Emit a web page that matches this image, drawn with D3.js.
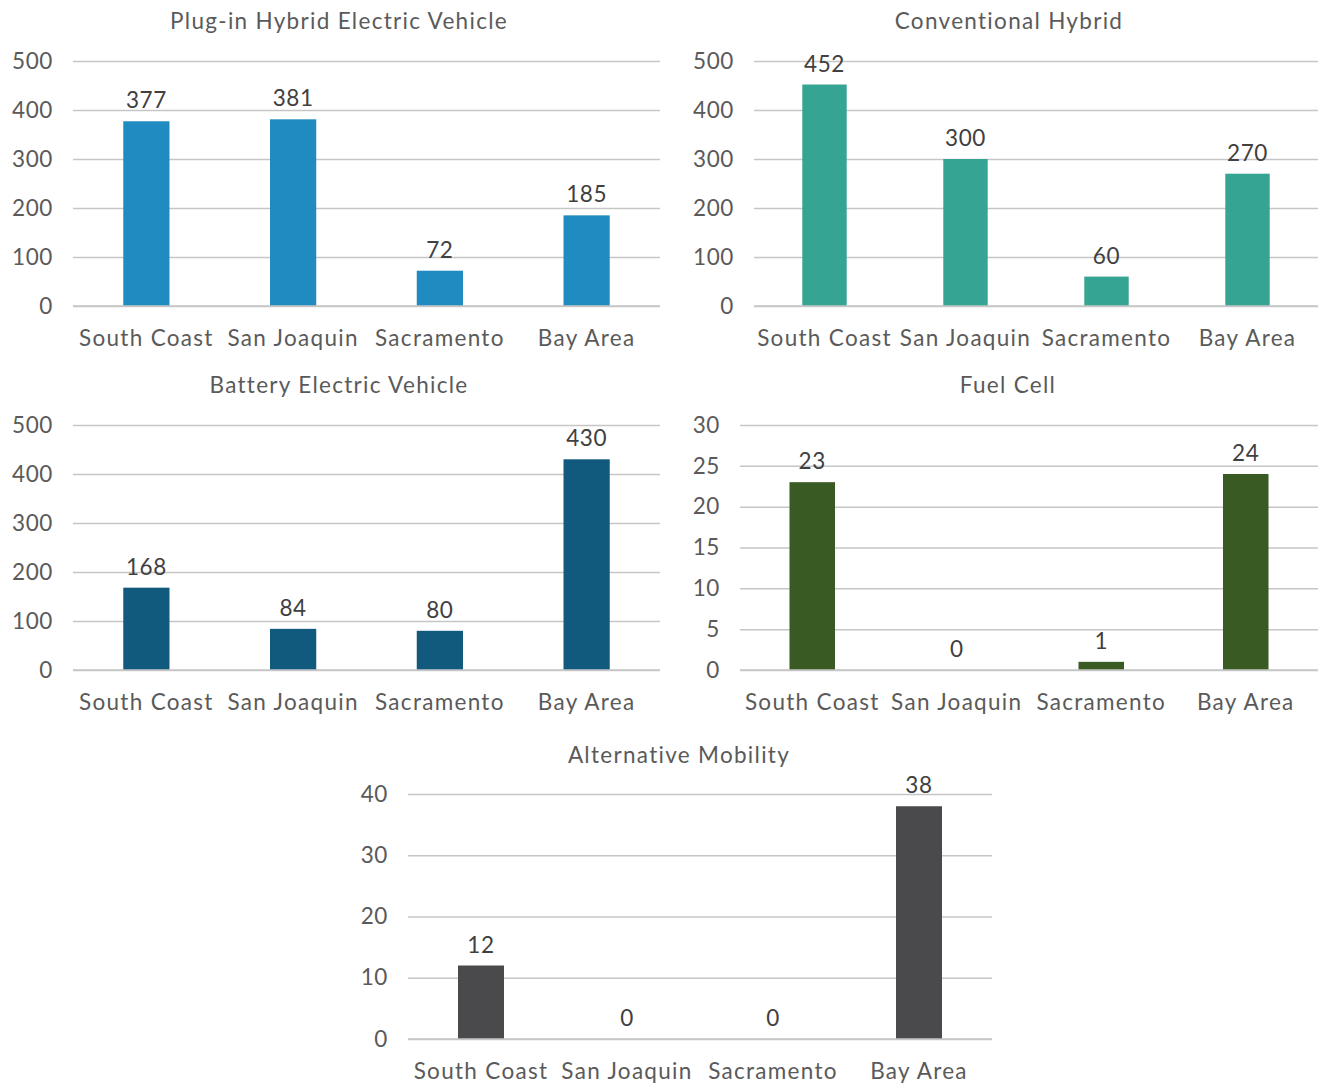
<!DOCTYPE html>
<html>
<head>
<meta charset="utf-8">
<script src="https://cdn.jsdelivr.net/npm/d3@7"></script>
<style>
  html, body { margin: 0; padding: 0; background: #fff; }
  svg { display: block; font-family: Lato, "Open Sans", sans-serif; }
</style>
</head>
<body>
<svg id="chart" width="1321" height="1084"></svg>
<script>
// Regions shared by every panel
const regions = ["South Coast", "San Joaquin", "Sacramento", "Bay Area"];

// Vehicle counts per region, one array per technology
const phevValues = [377, 381, 72, 185];
const hybridValues = [452, 300, 60, 270];
const bevValues = [168, 84, 80, 430];
const fuelCellValues = [23, 0, 1, 24];
const altMobilityValues = [12, 0, 0, 38];

// Tick values for each panel's value axis
const ticks500 = [0, 100, 200, 300, 400, 500];
const ticks30 = [0, 5, 10, 15, 20, 25, 30];
const ticks40 = [0, 10, 20, 30, 40];

const panelTitles = [
  "Plug-in Hybrid Electric Vehicle",
  "Conventional  Hybrid",
  "Battery Electric Vehicle",
  "Fuel Cell",
  "Alternative Mobility"
];

const panels = [
  { title: panelTitles[0], values: phevValues, ticks: ticks500, color: "#1f8bc0",
    x0: 73, x1: 660, yTop: 61, yBottom: 306, titleX: 339, titleY: 29 },
  { title: panelTitles[1], values: hybridValues, ticks: ticks500, color: "#36a492",
    x0: 754, x1: 1318, yTop: 61, yBottom: 306, titleX: 1009, titleY: 29 },
  { title: panelTitles[2], values: bevValues, ticks: ticks500, color: "#115a7e",
    x0: 73, x1: 660, yTop: 425, yBottom: 670, titleX: 339, titleY: 393 },
  { title: panelTitles[3], values: fuelCellValues, ticks: ticks30, color: "#3a5a23",
    x0: 740, x1: 1318, yTop: 425, yBottom: 670, titleX: 1008, titleY: 393 },
  { title: panelTitles[4], values: altMobilityValues, ticks: ticks40, color: "#4a4a4c",
    x0: 408, x1: 992, yTop: 794, yBottom: 1039, titleX: 679, titleY: 763 }
];

const svg = d3.select("#chart");
const textColor = "#5a5a5a";
const gridColor = "#c6c6c6";
const fontSize = 22.5;
const spacing = "1.3px";

panels.forEach(p => {
  const g = svg.append("g");

  const x = d3.scaleBand()
    .domain(regions)
    .range([p.x0, p.x1])
    .paddingInner(0.685)
    .paddingOuter(0.3425);

  const y = d3.scaleLinear()
    .domain([0, d3.max(p.ticks)])
    .range([p.yBottom, p.yTop]);

  // Title
  g.append("text")
    .attr("x", p.titleX)
    .attr("y", p.titleY)
    .attr("text-anchor", "middle")
    .attr("fill", textColor)
    .attr("font-size", fontSize)
    .attr("letter-spacing", spacing)
    .text(p.title);

  // Horizontal gridlines with value labels on the left
  const yAxis = d3.axisLeft(y)
    .tickValues(p.ticks)
    .tickSize(-(p.x1 - p.x0))
    .tickPadding(20)
    .tickFormat(d3.format("d"));

  const ya = g.append("g")
    .attr("transform", `translate(${p.x0},0)`)
    .call(yAxis);
  ya.select(".domain").remove();
  ya.selectAll(".tick line")
    .attr("stroke", gridColor)
    .attr("stroke-width", 1.5);
  ya.selectAll(".tick text")
    .attr("fill", textColor)
    .attr("font-size", fontSize)
    .attr("letter-spacing", "0.6px")
    .attr("font-family", "Lato, sans-serif");

  // Bars
  g.selectAll("rect.bar")
    .data(regions)
    .join("rect")
    .attr("class", "bar")
    .attr("x", d => x(d))
    .attr("width", x.bandwidth())
    .attr("y", (d, i) => y(p.values[i]))
    .attr("height", (d, i) => y(0) - y(p.values[i]))
    .attr("fill", p.color);

  // Baseline drawn over the bars
  g.append("line")
    .attr("x1", p.x0).attr("x2", p.x1)
    .attr("y1", y(0)).attr("y2", y(0))
    .attr("stroke", gridColor)
    .attr("stroke-width", 1.5);

  // Value labels
  g.selectAll("text.value")
    .data(regions)
    .join("text")
    .attr("class", "value")
    .attr("x", d => x(d) + x.bandwidth() / 2)
    .attr("y", (d, i) => y(p.values[i]) - 13)
    .attr("text-anchor", "middle")
    .attr("fill", "#404040")
    .attr("font-size", fontSize)
    .attr("letter-spacing", "0.6px")
    .text((d, i) => p.values[i]);

  // Category axis
  const xa = g.append("g")
    .attr("transform", `translate(0,${p.yBottom})`)
    .call(d3.axisBottom(x).tickSize(0).tickPadding(24));
  xa.select(".domain").remove();
  xa.selectAll(".tick text")
    .attr("fill", textColor)
    .attr("font-size", fontSize)
    .attr("letter-spacing", spacing)
    .attr("font-family", "Lato, sans-serif");
});
</script>
</body>
</html>
